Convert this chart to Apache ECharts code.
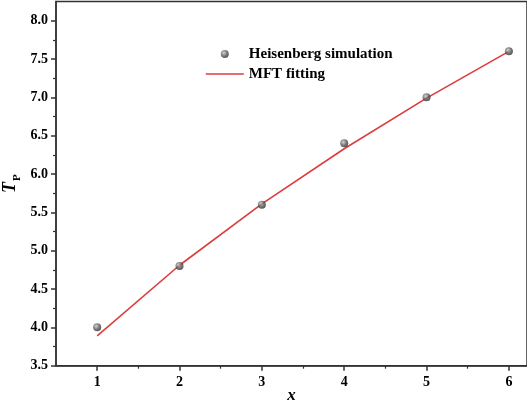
<!DOCTYPE html>
<html>
<head>
<meta charset="utf-8">
<script src="https://cdn.jsdelivr.net/npm/echarts@6/dist/echarts.min.js"></script>
<style>html,body{margin:0;padding:0;background:#fff}#c{width:527px;height:406px}</style>
</head>
<body>
<div id="c"></div>
<script>
const xValues = [1, 2, 3, 4, 5, 6];
const simValues = [4.0, 4.8, 5.6, 6.4, 7.0, 7.6];
const fitValues = [3.89, 4.81, 5.61, 6.33, 6.99, 7.60];
const xTicks = [1, 2, 3, 4, 5, 6];
const xMinorTicks = [1.5, 2.5, 3.5, 4.5, 5.5];
const yTicks = [3.5, 4.0, 4.5, 5.0, 5.5, 6.0, 6.5, 7.0, 7.5, 8.0];
const yMinorTicks = [3.75, 4.25, 4.75, 5.25, 5.75, 6.25, 6.75, 7.25, 7.75];

const FONT = '"Liberation Serif", "Times New Roman", serif';
const AX = '#333';
const ball = {
  type: 'radial', x: 0.38, y: 0.35, r: 0.7,
  colorStops: [{offset: 0, color: '#c8c8c8'}, {offset: 0.55, color: '#5a5a5a'}, {offset: 1, color: '#2a2a2a'}]
};

const chart = echarts.init(document.getElementById('c'), null, {renderer: 'canvas'});
const xMin = 0.5, xMax = 6.22, yMin = 3.5, yMax = 8.25;

function xAx(extra) {
  return Object.assign({
    type: 'value', gridIndex: 0, position: 'bottom', min: xMin, max: xMax,
    splitLine: {show: false}
  }, extra);
}
function yAx(extra) {
  return Object.assign({
    type: 'value', gridIndex: 0, position: 'left', min: yMin, max: yMax,
    splitLine: {show: false}
  }, extra);
}

chart.setOption({
  animation: false,
  backgroundColor: '#fff',
  grid: {left: 56, right: 0, top: 1.5, bottom: 40.3, containLabel: false, outerBoundsMode: 'none',
    show: true, borderColor: AX, borderWidth: 1.5, backgroundColor: 'transparent'},
  legend: {
    orient: 'vertical', left: 200, top: 41, itemWidth: 38, itemHeight: 8, itemGap: 4,
    textStyle: {fontFamily: FONT, fontWeight: 'bold', fontSize: 15, color: '#000', lineHeight: 16},
    data: [
      {name: 'Heisenberg simulation', icon: 'circle', itemStyle: {color: ball}},
      {name: 'MFT fitting', itemStyle: {opacity: 0}, lineStyle: {color: '#dc3c3c', width: 1.6}}
    ]
  },
  xAxis: [
    xAx({
      name: 'x', nameLocation: 'middle', nameGap: 21, nameMoveOverlap: false,
      nameTextStyle: {fontFamily: FONT, fontWeight: 'bold', fontStyle: 'italic', fontSize: 17, color: '#000'},
      axisLine: {show: true, lineStyle: {color: AX, width: 1.5}},
      axisTick: {show: true, inside: false, length: 5, customValues: xTicks, lineStyle: {color: AX, width: 1.5}},
      axisLabel: {show: true, customValues: xTicks, margin: 10, fontFamily: FONT, fontWeight: 'bold', fontSize: 14, color: '#000'}
    }),
    xAx({
      axisLine: {show: false},
      axisTick: {show: true, inside: false, length: 3, customValues: xMinorTicks, lineStyle: {color: AX, width: 1.2}},
      axisLabel: {show: false}
    })
  ],
  yAxis: [
    yAx({
      name: '{a|T}{b|P}', nameLocation: 'middle', nameGap: 37, nameMoveOverlap: false,
      nameTextStyle: {
        color: '#000',
        rich: {
          a: {fontFamily: FONT, fontWeight: 'bold', fontStyle: 'italic', fontSize: 18, color: '#000', lineHeight: 18},
          b: {fontFamily: FONT, fontWeight: 'bold', fontSize: 11, color: '#000', verticalAlign: 'bottom', lineHeight: 12, padding: [0, 0, -4, 1]}
        }
      },
      axisLine: {show: true, lineStyle: {color: AX, width: 1.5}},
      axisTick: {show: true, inside: false, length: 5, customValues: yTicks, lineStyle: {color: AX, width: 1.5}},
      axisLabel: {show: true, customValues: yTicks, margin: 8, fontFamily: FONT, fontWeight: 'bold', fontSize: 14, color: '#000',
        formatter: v => v.toFixed(1)}
    }),
    yAx({
      axisLine: {show: false},
      axisTick: {show: true, inside: false, length: 3, customValues: yMinorTicks, lineStyle: {color: AX, width: 1.2}},
      axisLabel: {show: false}
    })
  ],
  series: [
    {
      name: 'MFT fitting', type: 'line', xAxisIndex: 0, yAxisIndex: 0,
      data: xValues.map((x, i) => [x, fitValues[i]]),
      symbol: 'none', smooth: false,
      lineStyle: {color: '#dc3c3c', width: 1.6},
      itemStyle: {color: '#dc3c3c'}, z: 2
    },
    {
      name: 'Heisenberg simulation', type: 'scatter', xAxisIndex: 0, yAxisIndex: 0,
      data: xValues.map((x, i) => [x, simValues[i]]),
      symbol: 'circle', symbolSize: 8,
      itemStyle: {color: ball}, z: 3
    }
  ]
});
</script>
</body>
</html>
